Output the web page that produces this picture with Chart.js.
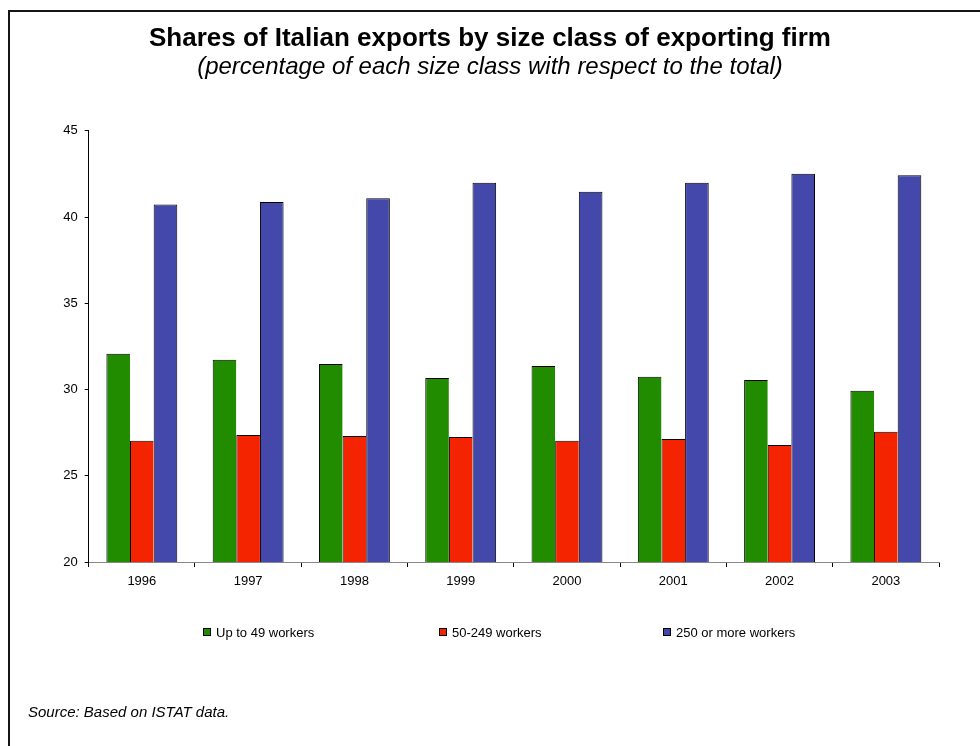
<!DOCTYPE html>
<html>
<head>
<meta charset="utf-8">
<title>Shares of Italian exports by size class of exporting firm</title>
<script src="https://cdn.jsdelivr.net/npm/chart.js@4.4.1/dist/chart.umd.min.js"></script>
<style>
  html, body { margin: 0; padding: 0; background: #fff; }
  #wrap { width: 980px; height: 746px; }
</style>
</head>
<body>
<div id="wrap"><canvas id="exports-chart" width="980" height="746"></canvas></div>
<script>
// Export shares (%) per size class of exporting firm
const years = ['1996', '1997', '1998', '1999', '2000', '2001', '2002', '2003'];
const upTo49 = [32.07, 31.73, 31.48, 30.67, 31.36, 30.74, 30.55, 29.93];
const from50to249 = [27.03, 27.36, 27.30, 27.25, 27.03, 27.13, 26.78, 27.55];
const from250 = [40.73, 40.87, 41.10, 42.00, 41.47, 42.00, 42.51, 42.43];
const seriesNames = ['Up to 49 workers', '50-249 workers', '250 or more workers'];
const yTicks = [20, 25, 30, 35, 40, 45];

const FONT = "'Liberation Sans', Arial, sans-serif";
const COLORS = ['#218C00', '#F42300', '#4448AA'];

// legend item left edges and the row it sits on
const legendX = [203, 439, 663];
const legendY = 632;

/**
 * Frame, legend row and source note, drawn around the chart.
 */
const decorations = {
    id: 'decorations',
    beforeDraw(chart) {
        const ctx = chart.ctx;
        ctx.save();
        ctx.fillStyle = '#fff';
        ctx.fillRect(0, 0, chart.width, chart.height);
        ctx.fillStyle = '#151515';
        ctx.fillRect(8, 10, chart.width - 8, 2);
        ctx.fillRect(8, 10, 2, chart.height - 10);
        ctx.restore();
    },
    afterDraw(chart) {
        const ctx = chart.ctx;
        ctx.save();
        ctx.font = `13px ${FONT}`;
        ctx.textBaseline = 'middle';
        ctx.textAlign = 'left';
        chart.data.datasets.forEach((ds, i) => {
            const x = legendX[i];
            ctx.fillStyle = ds.backgroundColor;
            ctx.fillRect(x, legendY - 4, 8, 8);
            ctx.strokeStyle = '#000';
            ctx.lineWidth = 1;
            ctx.strokeRect(x + 0.5, legendY - 3.5, 7, 7);
            ctx.fillStyle = '#000';
            ctx.fillText(ds.label, x + 13, legendY + 1);
        });

        ctx.font = `italic 15px ${FONT}`;
        ctx.fillText('Source: Based on ISTAT data.', 28, 713);
        ctx.restore();
    }
};

const seriesData = [upTo49, from50to249, from250];

const datasets = seriesData.map((values, i) => ({
    label: seriesNames[i],
    data: values,
    backgroundColor: COLORS[i],
    borderColor: '#000',
    borderWidth: i === 2
        ? { top: 1, left: 1, right: 1, bottom: 0 }
        : { top: 1, left: 1, right: 0, bottom: 0 },
    borderSkipped: false,
    barPercentage: 1.0,
    categoryPercentage: 0.667
}));

new Chart(document.getElementById('exports-chart'), {
    type: 'bar',
    data: { labels: years, datasets: datasets },
    options: {
        responsive: false,
        animation: false,
        layout: { padding: { top: 24.5, left: 41, right: 41, bottom: 144 } },
        plugins: {
            legend: { display: false },
            tooltip: { enabled: false },
            title: {
                display: true,
                text: 'Shares of Italian exports by size class of exporting firm',
                color: '#000',
                font: { family: FONT, size: 26, weight: 'bold', lineHeight: 1.1 },
                padding: { top: 0, bottom: 0 }
            },
            subtitle: {
                display: true,
                text: '(percentage of each size class with respect to the total)',
                color: '#000',
                font: { family: FONT, size: 24, style: 'italic', lineHeight: 1.2 },
                padding: { top: 0, bottom: 49 }
            }
        },
        scales: {
            x: {
                offset: true,
                grid: { offset: true, drawOnChartArea: false, tickLength: 5, color: '#000' },
                border: { color: '#888', width: 1 },
                ticks: { color: '#000', font: { family: FONT, size: 13 }, padding: 7, maxRotation: 0 },
                afterFit(scale) { scale.height = 40; }
            },
            y: {
                min: yTicks[0],
                max: yTicks[yTicks.length - 1],
                afterBuildTicks(scale) { scale.ticks = yTicks.map(v => ({ value: v })); },
                grid: { drawOnChartArea: false, tickLength: 4, color: '#000' },
                border: { color: '#000', width: 1 },
                ticks: { color: '#000', font: { family: FONT, size: 13 }, padding: 7 },
                afterFit(scale) { scale.width = 47.7; }
            }
        }
    },
    plugins: [decorations]
});
</script>
</body>
</html>
